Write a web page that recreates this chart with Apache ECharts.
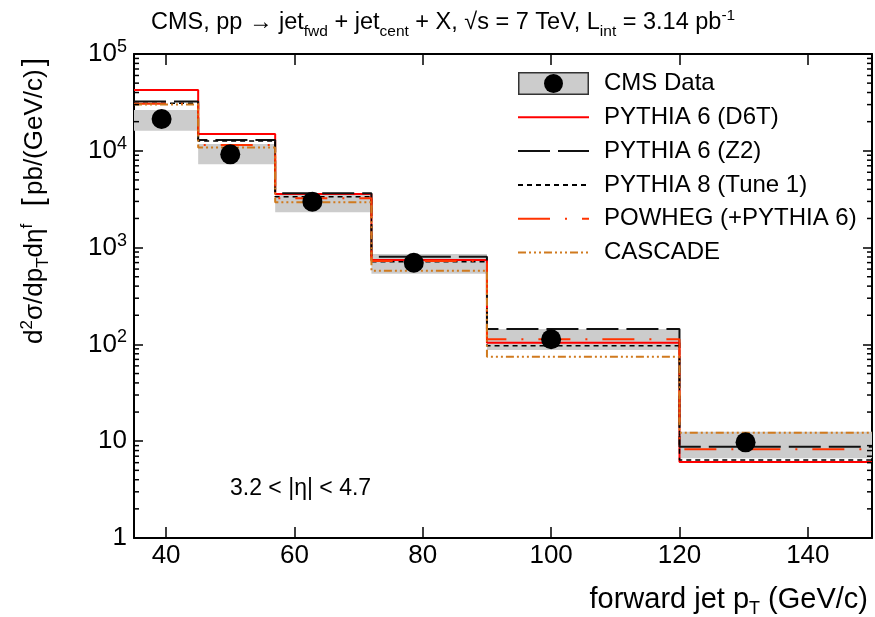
<!DOCTYPE html>
<html>
<head>
<meta charset="utf-8">
<script src="https://cdn.jsdelivr.net/npm/echarts@6/dist/echarts.min.js"></script>
<style>
html, body { margin: 0; padding: 0; background: #fff; }
#main { width: 875px; height: 617px; }
</style>
</head>
<body>
<div id="main"></div>
<script>
// bins in forward jet pT (GeV/c)
var binEdges = [35, 45, 57, 72, 90, 120, 150];
var dataX = [39.3, 50, 62.8, 78.6, 100, 130.3];
var dataY = [21300, 9200, 2980, 698, 113, 9.74];
var bandLow = [16100, 7250, 2315, 537, 87.5, 6.66];
var bandHigh = [26400, 11750, 3580, 859, 144, 12.5];

// MC predictions, one value per bin
var pythiaD6T = [42500, 14900, 3580, 745, 104, 6.1];
var pythiaZ2 = [32300, 12900, 3640, 806, 144, 8.77];
var pythia8 = [31000, 12600, 3360, 715, 97, 6.4];
var powheg = [30700, 11500, 3230, 728, 113, 8.25];
var cascade = [30000, 10800, 2940, 577, 74.6, 12.2];

var xTicks = [40, 60, 80, 100, 120, 140];
var yDecades = [1, 10, 100, 1000, 10000, 100000];

var FONT = "'Liberation Sans', Arial, Helvetica, sans-serif";

function steps(vals) {
  var pts = [];
  vals.forEach(function (v, i) {
    pts.push([binEdges[i], v]);
    pts.push([binEdges[i + 1], v]);
  });
  return pts;
}

var bandData = dataY.map(function (v, i) {
  return [binEdges[i], binEdges[i + 1], bandLow[i], bandHigh[i]];
});
var pointData = dataY.map(function (v, i) { return [dataX[i], v]; });

// log minor ticks 2..9 in each decade
var minorTicks = [];
for (var d = 0; d < yDecades.length - 1; d++) {
  for (var k = 2; k <= 9; k++) minorTicks.push([binEdges[0], yDecades[d] * k]);
}

var cmsIcon = 'image://data:image/svg+xml;charset=utf-8,' + encodeURIComponent(
  '<svg xmlns="http://www.w3.org/2000/svg" width="71" height="23">' +
  '<rect x="0.75" y="0.75" width="69.5" height="21.5" fill="#cccccc" stroke="#333333" stroke-width="1.5"/>' +
  '<circle cx="35.5" cy="11.5" r="9.5" fill="#000000"/></svg>');

var myChart = echarts.init(document.getElementById('main'));

function lineSeries(name, vals, color, dash, width) {
  return {
    name: name,
    type: 'line',
    data: steps(vals),
    symbol: 'none',
    z: 3,
    lineStyle: { color: color, width: width, type: dash },
    itemStyle: { color: color }
  };
}

function lineItem(name) {
  return { name: name, itemStyle: { opacity: 0 } };
}

myChart.setOption({
  animation: false,
  backgroundColor: '#fff',
  textStyle: { fontFamily: FONT },
  title: {
    text: 'CMS, pp \u2192 jet{sub|fwd} + jet{sub|cent} + X, \u221As = 7 TeV, L{sub|int} = 3.14 pb{sup|-1}',
    left: 146,
    top: 6,
    textStyle: {
      fontFamily: FONT,
      fontSize: 23.5,
      fontWeight: 'normal',
      color: '#000',
      lineHeight: 24,
      rich: {
        sub: { fontFamily: FONT, fontSize: 15.5, lineHeight: 15, padding: [18, 0, 0, 0], color: '#000' },
        sup: { fontFamily: FONT, fontSize: 15.5, lineHeight: 15, padding: [0, 0, 15, 0], color: '#000' }
      }
    }
  },
  legend: {
    orient: 'vertical',
    left: 517,
    top: 71.5,
    padding: 0,
    itemWidth: 71,
    itemHeight: 23,
    itemGap: 9.8,
    selectedMode: false,
    textStyle: { fontFamily: FONT, fontSize: 24, color: '#000', lineHeight: 23, padding: [0, 0, 0, 10] },
    data: [
      { name: 'CMS Data', icon: cmsIcon, itemStyle: { opacity: 1 } },
      lineItem('PYTHIA 6 (D6T)'),
      lineItem('PYTHIA 6 (Z2)'),
      lineItem('PYTHIA 8 (Tune 1)'),
      lineItem('POWHEG (+PYTHIA 6)'),
      lineItem('CASCADE')
    ]
  },
  grid: { left: 134, right: 3, top: 54, bottom: 79 },
  xAxis: [
    {
      type: 'value',
      min: binEdges[0],
      max: binEdges[binEdges.length - 1],
      axisLine: { lineStyle: { color: '#000', width: 2 } },
      axisTick: { inside: true, length: 11, customValues: xTicks, lineStyle: { color: '#000', width: 1.5 } },
      axisLabel: { customValues: xTicks, fontFamily: FONT, fontSize: 26, color: '#000', margin: 5 },
      splitLine: { show: false }
    },
    {
      type: 'value',
      position: 'top',
      min: binEdges[0],
      max: binEdges[binEdges.length - 1],
      axisLine: { lineStyle: { color: '#000', width: 2 } },
      axisTick: { inside: true, length: 11, customValues: xTicks, lineStyle: { color: '#000', width: 1.5 } },
      axisLabel: { show: false },
      splitLine: { show: false }
    }
  ],
  yAxis: [
    {
      type: 'log',
      logBase: 10,
      min: yDecades[0],
      max: yDecades[yDecades.length - 1],
      axisLine: { show: true, lineStyle: { color: '#000', width: 2 } },
      axisTick: { show: true, inside: true, length: 9, lineStyle: { color: '#000', width: 1.5 } },
      axisLabel: {
        margin: 7,
        color: '#000',
        fontFamily: FONT,
        fontSize: 26,
        formatter: function (v) {
          var n = Math.round(Math.log10(v));
          if (n < 2) return '{b|' + Math.round(v) + '}';
          return '{b|10}{s|' + n + '}';
        },
        rich: {
          b: { fontFamily: FONT, fontSize: 26, lineHeight: 26, color: '#000' },
          s: { fontFamily: FONT, fontSize: 18, lineHeight: 18, padding: [0, 0, 14, 0], color: '#000' }
        }
      },
      splitLine: { show: false }
    },
    {
      type: 'log',
      logBase: 10,
      position: 'right',
      min: yDecades[0],
      max: yDecades[yDecades.length - 1],
      axisLine: { show: true, lineStyle: { color: '#000', width: 2 } },
      axisTick: { show: true, inside: true, length: 9, lineStyle: { color: '#000', width: 1.5 } },
      axisLabel: { show: false },
      splitLine: { show: false }
    }
  ],
  graphic: [
    {
      type: 'text',
      x: 35,
      y: 55,
      rotation: Math.PI / 2,
      style: {
        text: 'd{s|2}\u03c3/dp{u|T}d\u03b7{s|f}  {k|[}pb/(GeV/c){k|]}',
        font: '26px ' + FONT,
        fill: '#000',
        align: 'right',
        verticalAlign: 'middle',
        rich: {
          s: { fontFamily: FONT, fontSize: 17, lineHeight: 17, padding: [0, 0, 16, 0], fill: '#000' },
          u: { fontFamily: FONT, fontSize: 17, lineHeight: 17, padding: [16, 0, 0, 0], fill: '#000' },
          k: { fontFamily: FONT, fontSize: 30, lineHeight: 30, padding: [0, 3, 0, 3], fill: '#000' }
        }
      }
    },
    {
      type: 'text',
      x: 868,
      y: 600,
      style: {
        text: 'forward jet p{u|T} (GeV/c)',
        font: '29px ' + FONT,
        fill: '#000',
        align: 'right',
        verticalAlign: 'middle',
        rich: {
          u: { fontFamily: FONT, fontSize: 18, lineHeight: 18, padding: [18, 0, 0, 0], fill: '#000' }
        }
      }
    },
    {
      type: 'text',
      x: 230,
      y: 489,
      style: {
        text: '3.2 < |\u03b7| < 4.7',
        font: '23px ' + FONT,
        fill: '#000',
        align: 'left',
        verticalAlign: 'middle'
      }
    }
  ],
  series: [
    {
      name: 'band',
      type: 'custom',
      z: 1,
      silent: true,
      encode: { x: [0, 1], y: [2, 3] },
      data: bandData,
      renderItem: function (params, api) {
        var p1 = api.coord([api.value(0), api.value(3)]);
        var p2 = api.coord([api.value(1), api.value(2)]);
        return {
          type: 'rect',
          shape: echarts.graphic.clipRectByRect({
            x: p1[0], y: p1[1], width: p2[0] - p1[0], height: p2[1] - p1[1]
          }, {
            x: params.coordSys.x, y: params.coordSys.y,
            width: params.coordSys.width, height: params.coordSys.height
          }),
          style: { fill: '#cccccc' }
        };
      }
    },
    {
      name: 'minor',
      type: 'custom',
      z: 5,
      silent: true,
      encode: { x: 0, y: 1 },
      data: minorTicks,
      renderItem: function (params, api) {
        var l = api.coord([binEdges[0], api.value(1)]);
        var r = api.coord([binEdges[binEdges.length - 1], api.value(1)]);
        return {
          type: 'group',
          children: [
            { type: 'line', shape: { x1: l[0], y1: l[1], x2: l[0] + 5, y2: l[1] }, style: { stroke: '#000', lineWidth: 1.5 } },
            { type: 'line', shape: { x1: r[0] - 5, y1: r[1], x2: r[0], y2: r[1] }, style: { stroke: '#000', lineWidth: 1.5 } }
          ]
        };
      }
    },
    lineSeries('PYTHIA 6 (D6T)', pythiaD6T, '#ff0000', 'solid', 2),
    lineSeries('PYTHIA 6 (Z2)', pythiaZ2, '#111111', [32, 8], 2),
    lineSeries('PYTHIA 8 (Tune 1)', pythia8, '#000000', [5, 4], 1.5),
    lineSeries('POWHEG (+PYTHIA 6)', powheg, '#ff3300', [32, 15, 2, 15], 2),
    lineSeries('CASCADE', cascade, '#d07a1e', [8, 3, 2, 3, 2, 3, 2, 3], 2),
    {
      name: 'CMS Data',
      type: 'scatter',
      z: 4,
      symbol: 'circle',
      symbolSize: 20,
      itemStyle: { color: '#000', opacity: 1 },
      data: pointData
    }
  ]
});
</script>
</body>
</html>
